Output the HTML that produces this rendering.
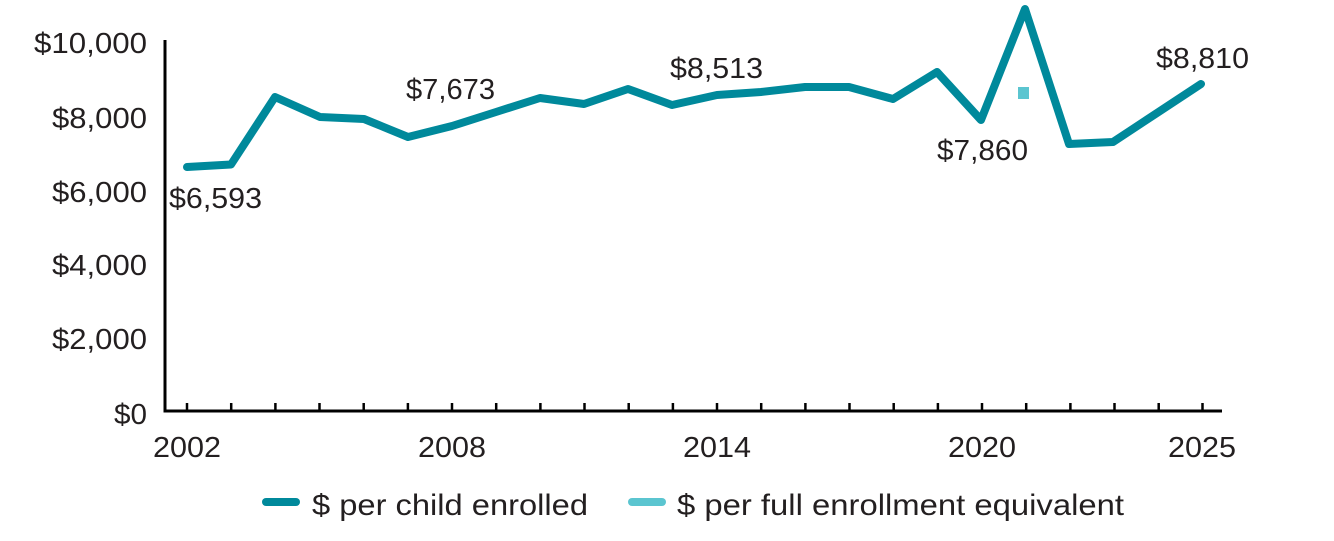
<!DOCTYPE html>
<html>
<head>
<meta charset="utf-8">
<style>
  html, body { margin: 0; padding: 0; background: #ffffff; }
  body { width: 1334px; height: 541px; overflow: hidden; }
  svg { display: block; }
  text { font-family: "Liberation Sans", "DejaVu Sans", sans-serif; fill: #231F20; }
</style>
</head>
<body>
<svg width="1334" height="541" viewBox="0 0 1334 541" xmlns="http://www.w3.org/2000/svg">
  <!-- Y axis labels -->
  <g font-size="29" text-anchor="end">
    <text x="147" y="53" textLength="113" lengthAdjust="spacingAndGlyphs">$10,000</text>
    <text x="147" y="128" textLength="95" lengthAdjust="spacingAndGlyphs">$8,000</text>
    <text x="147" y="202" textLength="95" lengthAdjust="spacingAndGlyphs">$6,000</text>
    <text x="147" y="275" textLength="95" lengthAdjust="spacingAndGlyphs">$4,000</text>
    <text x="147" y="349" textLength="95" lengthAdjust="spacingAndGlyphs">$2,000</text>
    <text x="147" y="424" textLength="33" lengthAdjust="spacingAndGlyphs">$0</text>
  </g>

  <!-- Axes -->
  <line x1="165" y1="40" x2="165" y2="412.5" stroke="#000" stroke-width="3"/>
  <line x1="163.5" y1="411" x2="1222" y2="411" stroke="#000" stroke-width="3"/>
  <!-- Ticks -->
  <g stroke="#000" stroke-width="2.5">
    <line x1="187" y1="403" x2="187" y2="411"/>
    <line x1="231.2" y1="403" x2="231.2" y2="411"/>
    <line x1="275.4" y1="403" x2="275.4" y2="411"/>
    <line x1="319.5" y1="403" x2="319.5" y2="411"/>
    <line x1="363.7" y1="403" x2="363.7" y2="411"/>
    <line x1="407.9" y1="403" x2="407.9" y2="411"/>
    <line x1="452" y1="403" x2="452" y2="411"/>
    <line x1="496.2" y1="403" x2="496.2" y2="411"/>
    <line x1="540.4" y1="403" x2="540.4" y2="411"/>
    <line x1="584.5" y1="403" x2="584.5" y2="411"/>
    <line x1="628.7" y1="403" x2="628.7" y2="411"/>
    <line x1="672.9" y1="403" x2="672.9" y2="411"/>
    <line x1="717" y1="403" x2="717" y2="411"/>
    <line x1="761.2" y1="403" x2="761.2" y2="411"/>
    <line x1="805.4" y1="403" x2="805.4" y2="411"/>
    <line x1="849.5" y1="403" x2="849.5" y2="411"/>
    <line x1="893.7" y1="403" x2="893.7" y2="411"/>
    <line x1="937.9" y1="403" x2="937.9" y2="411"/>
    <line x1="982" y1="403" x2="982" y2="411"/>
    <line x1="1026.2" y1="403" x2="1026.2" y2="411"/>
    <line x1="1070.4" y1="403" x2="1070.4" y2="411"/>
    <line x1="1114.5" y1="403" x2="1114.5" y2="411"/>
    <line x1="1158.7" y1="403" x2="1158.7" y2="411"/>
    <line x1="1202.5" y1="403" x2="1202.5" y2="411"/>
  </g>

  <!-- X axis labels -->
  <g font-size="29" text-anchor="middle">
    <text x="187" y="457" textLength="68" lengthAdjust="spacingAndGlyphs">2002</text>
    <text x="452" y="457" textLength="68" lengthAdjust="spacingAndGlyphs">2008</text>
    <text x="717" y="457" textLength="68" lengthAdjust="spacingAndGlyphs">2014</text>
    <text x="982" y="457" textLength="68" lengthAdjust="spacingAndGlyphs">2020</text>
    <text x="1202" y="457" textLength="68" lengthAdjust="spacingAndGlyphs">2025</text>
  </g>

  <!-- Series line -->
  <polyline fill="none" stroke="#00899B" stroke-width="8" stroke-linejoin="round" stroke-linecap="round"
    points="187,167 231,164.5 275,97 320,117 364,119 408,137 452,126 496,112 540,98 584,104 628,89 672,105 717,95 761,92 805,87 849,87 893,99 937,72 981,120 1025,9 1069,144 1113,142 1157,113 1201,84"/>

  <!-- FEE square -->
  <rect x="1018" y="87" width="11" height="12" fill="#5BC5D0"/>

  <!-- Data labels -->
  <g font-size="29">
    <text x="169" y="208" textLength="93" lengthAdjust="spacingAndGlyphs">$6,593</text>
    <text x="406" y="99" textLength="89" lengthAdjust="spacingAndGlyphs">$7,673</text>
    <text x="670" y="78" textLength="93" lengthAdjust="spacingAndGlyphs">$8,513</text>
    <text x="937" y="160" textLength="91" lengthAdjust="spacingAndGlyphs">$7,860</text>
    <text x="1156" y="68" textLength="93" lengthAdjust="spacingAndGlyphs">$8,810</text>
  </g>

  <!-- Legend -->
  <line x1="266" y1="502" x2="296" y2="502" stroke="#00899B" stroke-width="8" stroke-linecap="round"/>
  <text x="312" y="515" font-size="30" textLength="276" lengthAdjust="spacingAndGlyphs">$ per child enrolled</text>
  <line x1="632" y1="502" x2="662" y2="502" stroke="#5BC5D0" stroke-width="8" stroke-linecap="round"/>
  <text x="677" y="515" font-size="30" textLength="447" lengthAdjust="spacingAndGlyphs">$ per full enrollment equivalent</text>
</svg>
</body>
</html>
